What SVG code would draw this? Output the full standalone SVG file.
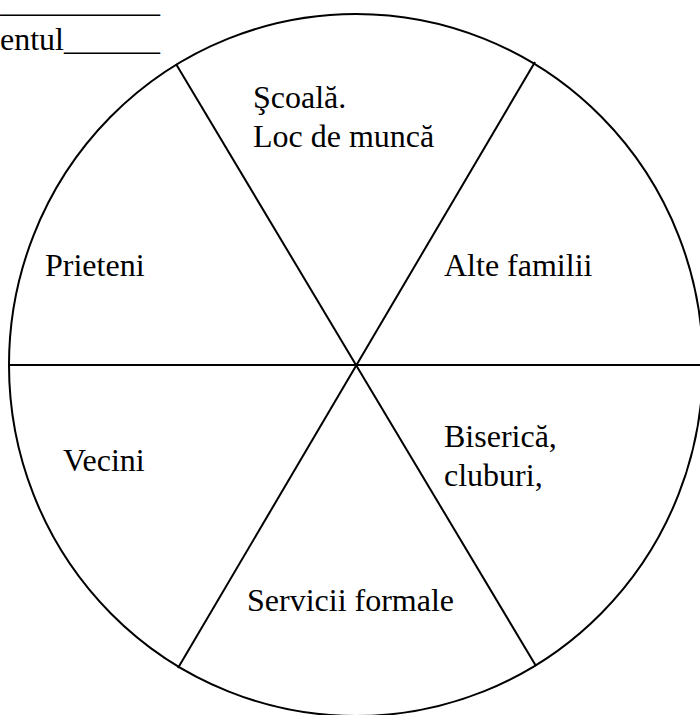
<svg xmlns="http://www.w3.org/2000/svg" width="700" height="715" viewBox="0 0 700 715">
  <style>
    .lbl { font-family: "Liberation Serif", "Times New Roman", serif; font-size: 32px; fill: #000; }
    .edge { stroke: #000; stroke-width: 2; fill: none; }
  </style>
  <rect width="700" height="715" fill="#fff"/>
  <!-- header blanks -->
  <g id="header">
    <text class="lbl" x="0" y="12">__________</text>
    <text class="lbl" x="0" y="50">entul______</text>
  </g>
  <!-- outer circle -->
  <g id="wheel">
    <ellipse class="edge" cx="356" cy="365" rx="347" ry="351"/>
  </g>
  <!-- dividing spokes -->
  <g id="connectors">
    <line class="edge" x1="10" y1="365" x2="702" y2="365"/>
    <line class="edge" x1="176" y1="64" x2="536" y2="666"/>
    <line class="edge" x1="535" y1="62" x2="178" y2="668"/>
  </g>
  <g id="scoala">
    <text class="lbl" x="253" y="108">Şcoală.</text>
    <text class="lbl" x="253" y="147">Loc de muncă</text>
  </g>
  <g id="prieteni">
    <text class="lbl" x="45" y="276">Prieteni</text>
  </g>
  <g id="alte-familii">
    <text class="lbl" x="444" y="276">Alte familii</text>
  </g>
  <g id="vecini">
    <text class="lbl" x="63" y="471">Vecini</text>
  </g>
  <g id="biserica">
    <text class="lbl" x="444" y="447">Biserică,</text>
    <text class="lbl" x="444" y="486">cluburi,</text>
  </g>
  <g id="servicii">
    <text class="lbl" x="247" y="611">Servicii formale</text>
  </g>
</svg>
